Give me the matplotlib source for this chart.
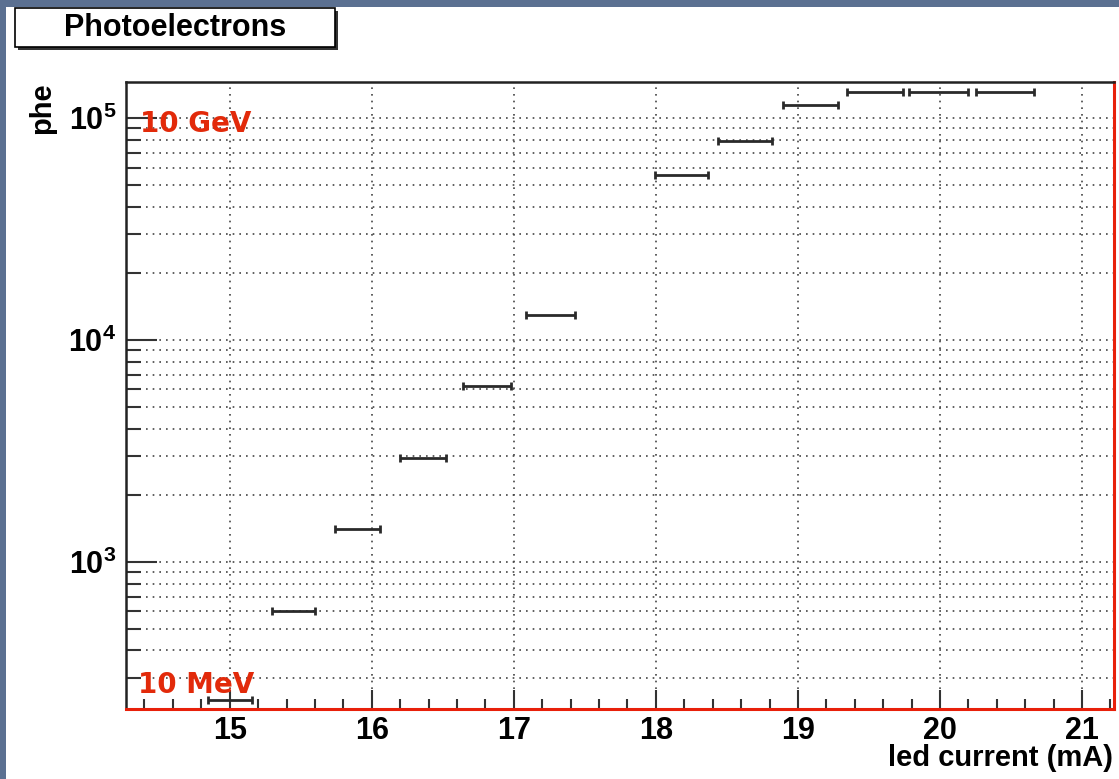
import matplotlib
matplotlib.use("Agg")
import matplotlib.pyplot as plt
import matplotlib.patches as mpatches
from matplotlib.ticker import MultipleLocator, LogLocator, FixedLocator, NullFormatter, FixedFormatter
import numpy as np

# ---- data ----
led_current = [15.00, 15.45, 15.90, 16.36, 16.81, 17.26, 18.18, 18.63, 19.09, 19.54, 19.99, 20.46]
led_current_err = [0.155, 0.151, 0.158, 0.162, 0.169, 0.173, 0.185, 0.19, 0.192, 0.198, 0.205, 0.205]
phe = [239, 601, 1408, 2940, 6200, 13000, 55600, 78700, 114500, 131000, 131000, 131000]

x_ticks = [15, 16, 17, 18, 19, 20, 21]
y_ticks = [1e3, 1e4, 1e5]
y_tick_labels = [r"$\mathbf{10^{3}}$", r"$\mathbf{10^{4}}$", r"$\mathbf{10^{5}}$"]

plt.rcParams['font.family'] = ['Liberation Sans', 'DejaVu Sans']
plt.rcParams['mathtext.fontset'] = 'custom'
plt.rcParams['mathtext.bf'] = 'Liberation Sans:bold'
plt.rcParams['mathtext.rm'] = 'Liberation Sans'

W, H = 1119, 779
fig = plt.figure(figsize=(W / 100, H / 100), dpi=100)
fig.patch.set_facecolor('#5b7091')

def fx(px):
    return px / W

def fy(py):
    return 1 - py / H

# white page
fig.patches.append(mpatches.Rectangle((fx(6), 0), 1 - fx(6), fy(7), transform=fig.transFigure,
                                      facecolor='white', edgecolor='none', zorder=-5))

ax = fig.add_axes([fx(126), fy(709), fx(1114) - fx(126), fy(82) - fy(709)])
ax.set_zorder(1)
ax.set_xscale('linear')
ax.set_yscale('log')
ax.set_xlim(14.27, 21.225)
ax.set_ylim(218, 1.457e5)

ax.errorbar(led_current, phe, xerr=led_current_err, fmt='none', ecolor='#2a2a2a',
            elinewidth=2, capsize=2.6, capthick=2, zorder=5)

ax.xaxis.set_major_locator(FixedLocator(x_ticks))
ax.xaxis.set_minor_locator(MultipleLocator(0.2))
ax.set_xticklabels([str(t) for t in x_ticks])
ax.yaxis.set_major_locator(FixedLocator(y_ticks))
ax.yaxis.set_major_formatter(FixedFormatter(y_tick_labels))
ax.yaxis.set_minor_locator(LogLocator(base=10, subs=np.arange(2, 10), numticks=20))
ax.yaxis.set_minor_formatter(NullFormatter())

ax.tick_params(axis='x', which='major', direction='in', length=14, width=1.5, color='#333333',
               labelsize=22, pad=5)
ax.tick_params(axis='x', which='minor', direction='in', length=7, width=1.5, color='#333333')
ax.tick_params(axis='y', which='major', direction='in', length=22, width=1.5, color='#333333',
               labelsize=22, pad=7)
ax.tick_params(axis='y', which='minor', direction='in', length=11, width=1.5, color='#333333')
for lab in ax.get_xticklabels():
    lab.set_fontweight('bold')

ax.grid(True, axis='x', which='major', linestyle=(0, (1, 3)), linewidth=1.2, color='#444444')
ax.grid(True, axis='y', which='both', linestyle=(0, (1, 3)), linewidth=1.2, color='#444444')
ax.set_axisbelow(True)

for s in ['left', 'top']:
    ax.spines[s].set_color('#222222')
    ax.spines[s].set_linewidth(1.8)
for s in ['bottom', 'right']:
    ax.spines[s].set_color('#e8200a')
    ax.spines[s].set_linewidth(2.2)

# red annotations
fig.text(fx(140), fy(124), '10 GeV', color='#e22a0a', fontsize=20, fontweight='bold',
         family='DejaVu Sans', ha='left', va='center', zorder=10)
fig.text(fx(138), fy(685), '10 MeV', color='#e22a0a', fontsize=20, fontweight='bold',
         family='DejaVu Sans', ha='left', va='center', zorder=10)

# axis titles
fig.text(fx(1113), fy(766), 'led current (mA)', fontsize=21, fontweight='bold',
         ha='right', va='baseline')
fig.text(fx(42), fy(82), 'phe', fontsize=21, fontweight='bold', rotation=90,
         ha='center', va='top')

# title box with shadow
fig.patches.append(mpatches.Rectangle((fx(18), fy(50)), fx(335) - fx(15), fy(8) - fy(47),
                                      transform=fig.transFigure, facecolor='#333333',
                                      edgecolor='none', zorder=1))
fig.patches.append(mpatches.Rectangle((fx(15), fy(47)), fx(335) - fx(15), fy(8) - fy(47),
                                      transform=fig.transFigure, facecolor='white',
                                      edgecolor='black', linewidth=1.2, zorder=2))
fig.text(fx(175), fy(28), 'Photoelectrons', fontsize=22, fontweight='bold',
         ha='center', va='center', zorder=3)

fig.savefig('out.png', dpi=100, facecolor=fig.get_facecolor())
